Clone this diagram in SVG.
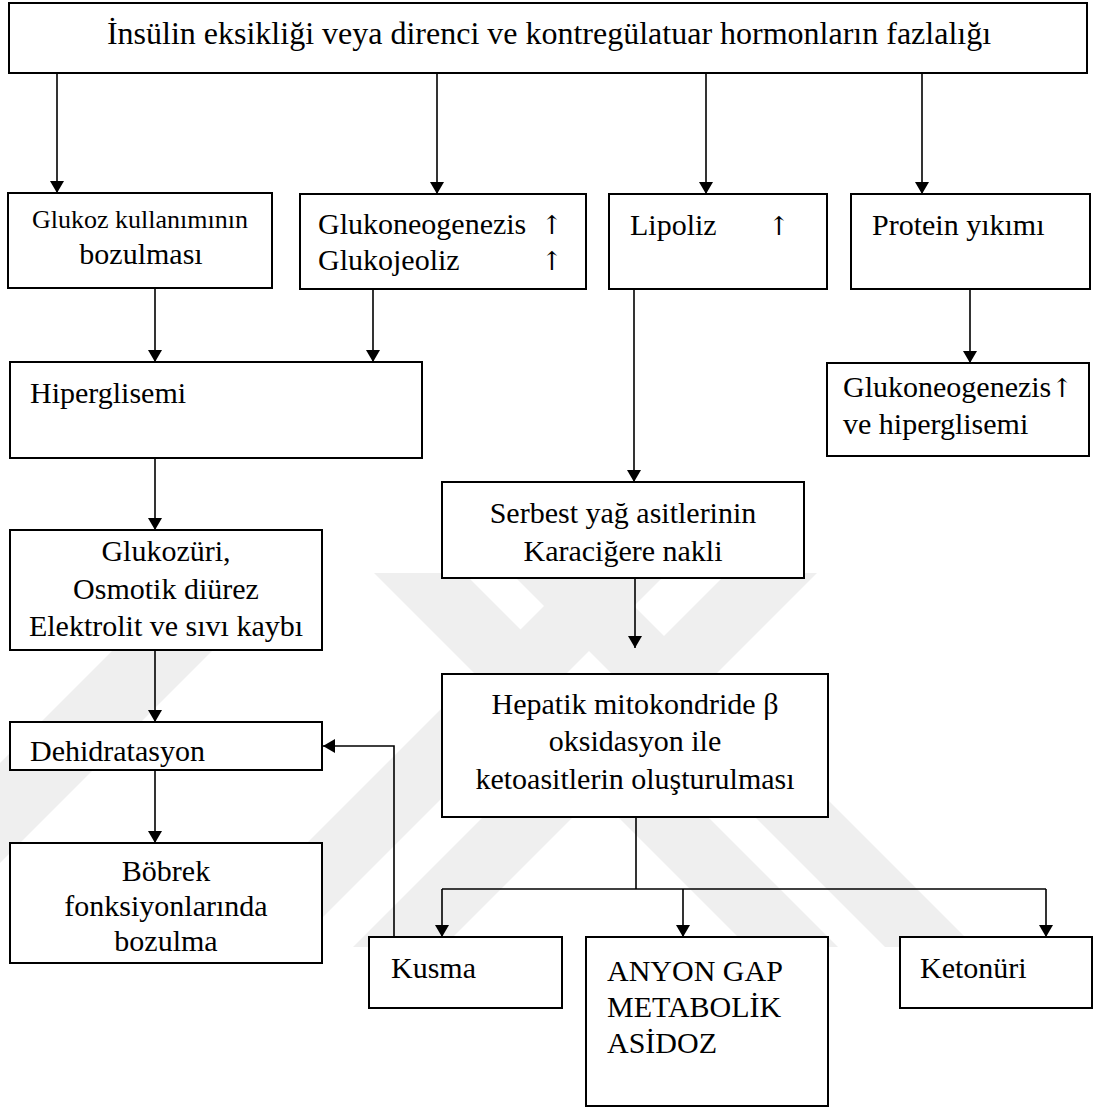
<svg xmlns="http://www.w3.org/2000/svg" width="1094" height="1108" viewBox="0 0 1094 1108">
<defs>
<marker id="ah" markerWidth="12" markerHeight="14" refX="12" refY="7" orient="auto" markerUnits="userSpaceOnUse">
<path d="M0,0 L12,7 L0,14 Z" fill="#000"/>
</marker>
<style>
.box{fill:#fff;stroke:#000;stroke-width:2}
.t{font-family:"Liberation Serif","Times New Roman",serif;font-size:30px;fill:#000}
.up{font-family:"DejaVu Serif","DejaVu Sans",serif;font-size:26px;fill:#000}
.c{text-anchor:middle}
.ln{fill:none;stroke:#000;stroke-width:1.6}
.ar{fill:none;stroke:#000;stroke-width:1.6;marker-end:url(#ah)}
.wm{fill:#efefef}
</style>
</defs>
<rect x="0" y="0" width="1094" height="1108" fill="#fff"/>
<g id="watermark">
<polygon class="wm" points="190,573 290,573 0,863 0,763"/>
<polygon class="wm" points="577,573 667,573 293,947 203,947"/>
<polygon class="wm" points="727,573 817,573 443,947 353,947"/>
<polygon class="wm" points="374,573 464,573 838,947 748,947"/>
<polygon class="wm" points="511,573 601,573 975,947 885,947"/>
</g>
<g id="connectors">
<line class="ar" x1="57" y1="73" x2="57" y2="193"/>
<line class="ar" x1="437" y1="73" x2="437" y2="194"/>
<line class="ar" x1="706" y1="73" x2="706" y2="194"/>
<line class="ar" x1="922" y1="73" x2="922" y2="194"/>
<line class="ar" x1="155" y1="288" x2="155" y2="362"/>
<line class="ar" x1="373" y1="289" x2="373" y2="362"/>
<line class="ar" x1="970" y1="289" x2="970" y2="363"/>
<line class="ar" x1="634" y1="289" x2="634" y2="482"/>
<line class="ar" x1="635" y1="578" x2="635" y2="648"/>
<line class="ar" x1="155" y1="458" x2="155" y2="530"/>
<line class="ar" x1="155" y1="650" x2="155" y2="722"/>
<line class="ar" x1="155" y1="770" x2="155" y2="843"/>
<polyline class="ar" points="394,937 394,746 323,746"/>
<polyline class="ln" points="636,817 636,889"/>
<polyline class="ln" points="442,889 1046,889"/>
<line class="ar" x1="442" y1="889" x2="442" y2="937"/>
<line class="ar" x1="683" y1="889" x2="683" y2="937"/>
<line class="ar" x1="1046" y1="889" x2="1046" y2="937"/>
</g>
<g id="top"><rect class="box" x="9" y="3" width="1078" height="70"/>
<text class="t c" x="549" y="44" style="font-size:32px">İnsülin eksikliği veya direnci ve kontregülatuar hormonların fazlalığı</text></g>
<g id="glukoz"><rect class="box" x="8" y="193" width="264" height="95"/>
<text class="t c" x="140" y="228" style="font-size:26px">Glukoz kullanımının</text>
<text class="t c" x="141" y="264">bozulması</text></g>
<g id="glukoneo"><rect class="box" x="300" y="194" width="286" height="95"/>
<text class="t" x="318" y="234">Glukoneogenezis</text><text class="up c" x="552" y="234">↑</text>
<text class="t" x="318" y="270">Glukojeoliz</text><text class="up c" x="552" y="270">↑</text></g>
<g id="lipoliz"><rect class="box" x="609" y="194" width="218" height="95"/>
<text class="t" x="630" y="235">Lipoliz</text><text class="up c" x="779" y="235">↑</text></g>
<g id="protein"><rect class="box" x="851" y="194" width="239" height="95"/>
<text class="t" x="872" y="235">Protein yıkımı</text></g>
<g id="hiper"><rect class="box" x="10" y="362" width="412" height="96"/>
<text class="t" x="30" y="403">Hiperglisemi</text></g>
<g id="glukoneo2"><rect class="box" x="827" y="363" width="262" height="93"/>
<text class="t" x="843" y="397">Glukoneogenezis<tspan class="up">↑</tspan></text>
<text class="t" x="843" y="434">ve hiperglisemi</text></g>
<g id="serbest"><rect class="box" x="442" y="482" width="362" height="96"/>
<text class="t c" x="623" y="523">Serbest yağ asitlerinin</text>
<text class="t c" x="623" y="561">Karaciğere nakli</text></g>
<g id="hepatik"><rect class="box" x="442" y="674" width="386" height="143"/>
<text class="t c" x="635" y="714">Hepatik mitokondride β</text>
<text class="t c" x="635" y="751">oksidasyon ile</text>
<text class="t c" x="635" y="789">ketoasitlerin oluşturulması</text></g>
<g id="glukozuri"><rect class="box" x="10" y="530" width="312" height="120"/>
<text class="t c" x="166" y="561">Glukozüri,</text>
<text class="t c" x="166" y="599">Osmotik diürez</text>
<text class="t c" x="166" y="636">Elektrolit ve sıvı kaybı</text></g>
<g id="dehid"><rect class="box" x="10" y="722" width="312" height="48"/>
<text class="t" x="30" y="761">Dehidratasyon</text></g>
<g id="bobrek"><rect class="box" x="10" y="843" width="312" height="120"/>
<text class="t c" x="166" y="881">Böbrek</text>
<text class="t c" x="166" y="916">fonksiyonlarında</text>
<text class="t c" x="166" y="951">bozulma</text></g>
<g id="kusma"><rect class="box" x="369" y="937" width="193" height="71"/>
<text class="t" x="391" y="978">Kusma</text></g>
<g id="anyon"><rect class="box" x="586" y="937" width="242" height="169"/>
<text class="t" x="607" y="981">ANYON GAP</text>
<text class="t" x="607" y="1017">METABOLİK</text>
<text class="t" x="607" y="1053">ASİDOZ</text></g>
<g id="ketonuri"><rect class="box" x="900" y="937" width="192" height="71"/>
<text class="t" x="920" y="978">Ketonüri</text></g>
</svg>
